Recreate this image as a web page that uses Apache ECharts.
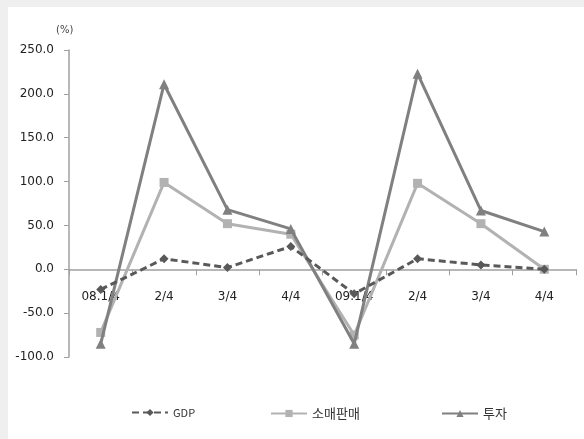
<!DOCTYPE html>
<html>
<head>
<meta charset="utf-8">
<script src="https://cdn.jsdelivr.net/npm/echarts@6/dist/echarts.min.js"></script>
<style>
  html, body { margin: 0; padding: 0; background: #efefef; }
  #chart { position: absolute; left: 8px; top: 7px; width: 576px; height: 432px; background: #ffffff; }
</style>
</head>
<body>
<div id="chart"></div>
<script>
// Quarterly growth rates (%), 2008–2009
const quarters = ['08.1/4', '2/4', '3/4', '4/4', '09.1/4', '2/4', '3/4', '4/4'];
const gdp = [-23, 12, 2, 26, -28, 12, 5, 0];
const retail = [-72, 99, 52, 40, -75, 98, 52, 0];
const invest = [-85, 211, 68, 46, -85, 223, 67, 43];
const yTicks = { min: -100, max: 250, step: 50 };

const font = '"DejaVu Sans", "Noto Sans CJK KR", sans-serif';
const chart = echarts.init(document.getElementById('chart'));

const gridTop = 43, gridBottom = 82, chartHeight = 432;
// Lift the category axis so that it sits on the zero line
const plotH = chartHeight - gridTop - gridBottom;
const zeroLift = plotH * (0 - yTicks.min) / (yTicks.max - yTicks.min);

const legendBase = {
  top: 395, itemWidth: 36, itemHeight: 9, itemGap: 3,
  textStyle: { fontFamily: '"Noto Sans CJK KR", sans-serif', fontSize: 13, color: '#333' }
};

chart.setOption({
  animation: false,
  backgroundColor: '#ffffff',
  grid: { left: 61, right: 8, top: gridTop, bottom: gridBottom },
  graphic: [{
    type: 'text', left: 48, top: 18,
    style: { text: '(%)', font: '10px ' + font, fill: '#444' }
  }],
  legend: [
    Object.assign({}, legendBase, { left: 118, data: ['GDP'],
      textStyle: Object.assign({}, legendBase.textStyle, { fontSize: 11 }) }),
    Object.assign({}, legendBase, { left: 257, data: ['소매판매'] }),
    Object.assign({}, legendBase, { left: 428, data: ['투자'] })
  ],
  xAxis: {
    type: 'category', data: quarters, boundaryGap: true,
    offset: -zeroLift,
    axisLine: { onZero: false, lineStyle: { color: '#a0a0a0', width: 1.5 } },
    axisTick: { show: true, length: 6, lineStyle: { color: '#a0a0a0' } },
    axisLabel: { margin: 22, fontFamily: font, fontSize: 12, color: '#222', interval: 0 },
    splitLine: { show: false }
  },
  yAxis: {
    type: 'value', min: yTicks.min, max: yTicks.max, interval: yTicks.step,
    axisLine: { show: true, lineStyle: { color: '#a0a0a0', width: 1.5 } },
    axisTick: { show: true, length: 5, lineStyle: { color: '#a0a0a0' } },
    axisLabel: { margin: 15, fontFamily: font, fontSize: 12, color: '#222',
      formatter: v => v.toFixed(1) },
    splitLine: { show: false }
  },
  series: [
    {
      name: 'GDP', type: 'line', data: gdp, z: 4,
      symbol: 'diamond', symbolSize: 9,
      lineStyle: { color: '#595959', width: 3, type: [7, 4] },
      itemStyle: { color: '#595959' }
    },
    {
      name: '소매판매', type: 'line', data: retail, z: 2,
      symbol: 'rect', symbolSize: 9,
      lineStyle: { color: '#b2b2b2', width: 3 },
      itemStyle: { color: '#b2b2b2' }
    },
    {
      name: '투자', type: 'line', data: invest, z: 3,
      symbol: 'triangle', symbolSize: 10,
      lineStyle: { color: '#808080', width: 3 },
      itemStyle: { color: '#808080' }
    }
  ]
});
</script>
</body>
</html>
